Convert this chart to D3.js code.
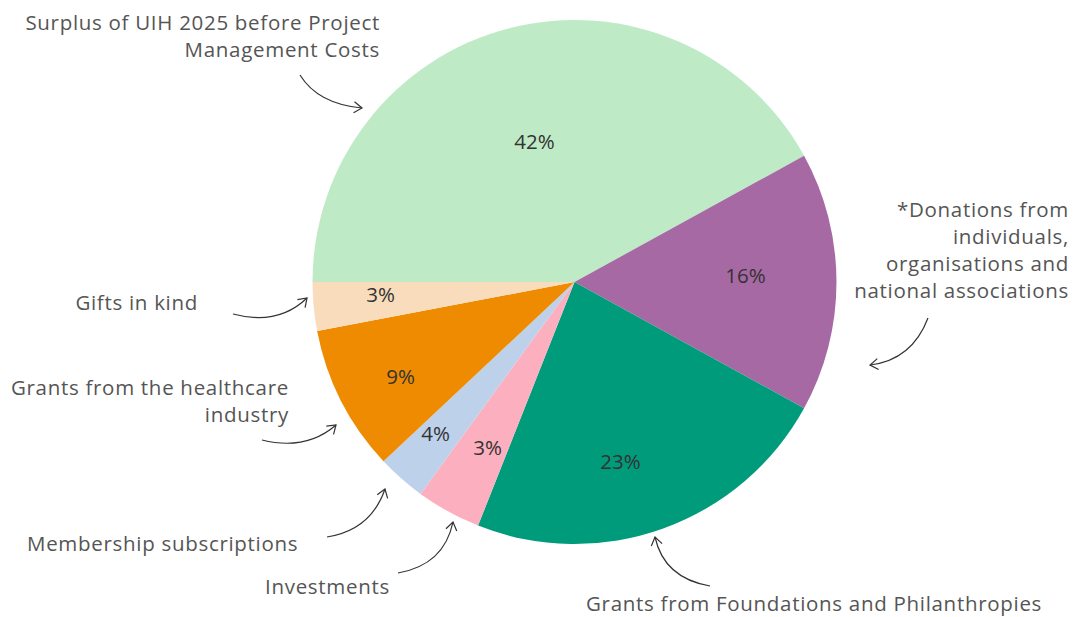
<!DOCTYPE html>
<html>
<head>
<meta charset="utf-8">
<script src="https://cdn.jsdelivr.net/npm/d3@7"></script>
<style>
  body { margin: 0; background: white; }
  .pct { font-family: "Open Sans", sans-serif; font-size: 20.5px; fill: #333; }
  .lbl { font-family: "Open Sans", sans-serif; font-size: 20.5px; letter-spacing: 0.7px; fill: #555; }
  .arrow { fill: none; stroke: #333; stroke-width: 1.2; }
</style>
</head>
<body>
<div id="chart"></div>
<script>
// slices in drawing order, clockwise from 9 o'clock
var categories = ["Surplus", "Donations", "Foundations", "Investments", "Membership", "Healthcare", "Gifts"];
var values = [42, 16, 23, 4, 3, 9, 3];
var pctLabels = ["42%", "16%", "23%", "3%", "4%", "9%", "3%"];
var colors = ["#BEEAC6", "#A769A4", "#009B7B", "#FCAFBF", "#BED1EB", "#EF8B00", "#F8DCBB"];

var width = 1074, height = 617;
var cx = 574.5, cy = 282, radius = 262;

// label offsets from pie centre
var pctOffsets = [[-40, -141], [171, -7], [46, 179], [-87, 165], [-139, 151], [-174, 94], [-194, 12]];

var outerLabels = [
  { lines: ["Surplus of UIH 2025 before Project", "Management Costs"], x: 380, y: 30, anchor: "end" },
  { lines: ["*Donations from", "individuals,", "organisations and", "national associations"], x: 1069, y: 217, anchor: "end" },
  { lines: ["Gifts in kind"], x: 198, y: 310, anchor: "end" },
  { lines: ["Grants from the healthcare", "industry"], x: 289, y: 395, anchor: "end" },
  { lines: ["Membership subscriptions"], x: 27, y: 551, anchor: "start" },
  { lines: ["Investments"], x: 265, y: 594, anchor: "start" },
  { lines: ["Grants from Foundations and Philanthropies"], x: 586, y: 611, anchor: "start" }
];

var arrows = [
  "M300,75 Q318,104 362,108",
  "M928,318 Q912,360 870,365",
  "M233,314 Q278,326 307,298",
  "M262,440 Q306,451 336,425",
  "M327,537 Q371,530 385,489",
  "M398,573 Q444,565 453,522",
  "M710,586 Q664,578 655,537"
];

var svg = d3.select("#chart")
  .append("svg")
  .attr("width", width)
  .attr("height", height);

svg.append("defs").append("marker")
  .attr("id", "head")
  .attr("viewBox", "-10 -7 12 14")
  .attr("markerWidth", 12)
  .attr("markerHeight", 14)
  .attr("markerUnits", "userSpaceOnUse")
  .attr("orient", "auto")
  .append("path")
  .attr("d", "M-8,-5.5 L0,0 L-8,5.5")
  .attr("fill", "none")
  .attr("stroke", "#333")
  .attr("stroke-width", 1.2);

var pie = d3.pie()
  .sort(null)
  .startAngle(-Math.PI / 2)
  .endAngle(Math.PI * 1.5)
  .value(function (d, i) { return values[i]; });

var arc = d3.arc().innerRadius(0).outerRadius(radius);

var g = svg.append("g")
  .attr("transform", "translate(" + cx + "," + cy + ")");

g.selectAll("path.slice")
  .data(pie(categories))
  .enter()
  .append("path")
  .attr("class", "slice")
  .attr("d", arc)
  .attr("fill", function (d, i) { return colors[i]; });

g.selectAll("text.pct")
  .data(pctLabels)
  .enter()
  .append("text")
  .attr("class", "pct")
  .attr("x", function (d, i) { return pctOffsets[i][0]; })
  .attr("y", function (d, i) { return pctOffsets[i][1]; })
  .attr("text-anchor", "middle")
  .attr("dominant-baseline", "central")
  .text(function (d) { return d; });

outerLabels.forEach(function (l) {
  var t = svg.append("text")
    .attr("class", "lbl")
    .attr("text-anchor", l.anchor);
  l.lines.forEach(function (line, j) {
    t.append("tspan")
      .attr("x", l.x)
      .attr("y", l.y + j * 27)
      .text(line);
  });
});

svg.selectAll("path.arrow")
  .data(arrows)
  .enter()
  .append("path")
  .attr("class", "arrow")
  .attr("d", function (d) { return d; })
  .attr("marker-end", "url(#head)");
</script>
</body>
</html>
